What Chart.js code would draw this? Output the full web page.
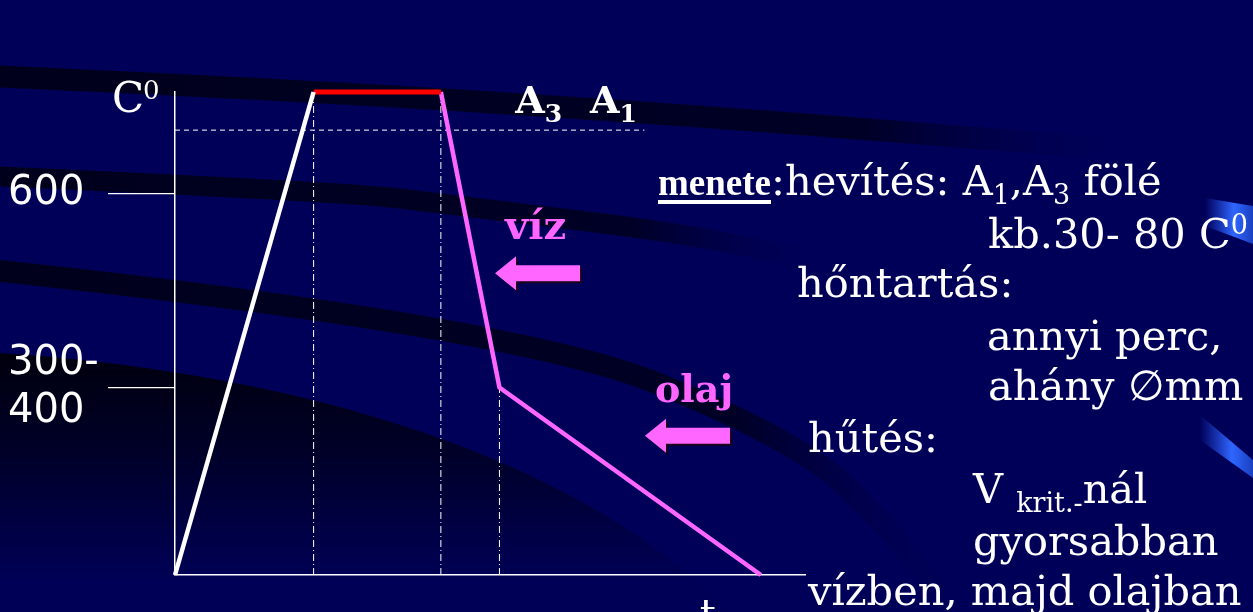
<!DOCTYPE html>
<html>
<head>
<meta charset="utf-8">
<script src="https://cdn.jsdelivr.net/npm/chart.js@4.4.1/dist/chart.umd.min.js"></script>
<style>
  html, body { margin: 0; padding: 0; background: #000058; }
  #wrap { position: relative; width: 1253px; height: 612px; overflow: hidden; }
  #chart { position: absolute; left: 0; top: 0; }
  .ln {
    position: absolute; color: #fff; white-space: nowrap;
    font-family: "DejaVu Serif", serif; font-size: 41.5px; line-height: 40px;
  }
  .ln b { font-family: "Liberation Serif", serif; font-size: 37px; text-decoration: underline; text-decoration-thickness: 4px; text-underline-offset: 5px; }
  .ln sub { font-size: 27px; line-height: 0; vertical-align: -9px; }
  .ln sup { font-size: 27px; line-height: 0; vertical-align: 14px; }
</style>
</head>
<body>
<div id="wrap">
  <canvas id="chart" width="1253" height="612"></canvas>
  <div class="ln" style="left:658px; top:161px;"><b>menete</b>:hevítés: A<sub>1</sub>,A<sub>3</sub> fölé</div>
  <div class="ln" style="left:988px; top:214px;">kb.30- 80 C<sup>0</sup></div>
  <div class="ln" style="left:797px; top:263px;">hőntartás:</div>
  <div class="ln" style="left:987px; top:316px;">annyi perc,</div>
  <div class="ln" style="left:988px; top:366px;">ahány ∅mm</div>
  <div class="ln" style="left:808px; top:418px;">hűtés:</div>
  <div class="ln" style="left:973px; top:469px;">V <sub>krit.-</sub>nál</div>
  <div class="ln" style="left:973px; top:521px;">gyorsabban</div>
  <div class="ln" style="left:808px; top:571px;">vízben, majd olajban</div>
</div>
<script>
// time axis is schematic (0..10), temperature in C
const heatTime = [0, 2.2];
const heatTemp = [0, 760];
const holdTime = [2.2, 4.22];
const holdTemp = [760, 760];
const coolTime = [4.22, 5.15, 9.3];
const coolTemp = [760, 295, 0];
const a3Time = [0, 7.45];
const a3Temp = [700, 700];
const guideTime = [2.2, 4.22, 5.15];
const guideTop = [760, 760, 295];
const yTickValues = [295, 600];
const yTickLabels = [["300-", "400"], "600"];
const arrowTime = [5.08, 7.46];
const arrowTemp = [475, 219];
const arrowLabels = ["víz", "olaj"];
const a3LabelTime = 5.4;
const tLabelTime = 8.33;

const PINK = "#ff66ff";

const pts = (ts, cs) => ts.map((t, i) => ({ x: t, y: cs[i] }));

const guideSets = guideTime.map((t, i) => ({
  data: pts([t, t], [0, guideTop[i]]),
  borderColor: "#ffffff",
  borderWidth: 1,
  borderDash: [7, 3, 1, 3],
  pointRadius: 0,
  clip: false,
}));

// dark navy slide backdrop with the curved bands
const backdrop = {
  id: "backdrop",
  beforeDraw(chart) {
    const { ctx, width, height } = chart;
    ctx.save();
    ctx.fillStyle = "#000058";
    ctx.fillRect(0, 0, width, height);

    ctx.beginPath();
    ctx.moveTo(0, 353);
    ctx.bezierCurveTo(260, 370, 560, 440, 730, 612);
    ctx.lineTo(0, 612);
    ctx.closePath();
    const g = ctx.createLinearGradient(0, 355, 0, 580);
    g.addColorStop(0, "#00000e");
    g.addColorStop(0.45, "#00002a");
    g.addColorStop(1, "#000056");
    ctx.fillStyle = g;
    ctx.fill();

    const band = (p, w, fadeX) => {
      const sg = ctx.createLinearGradient(0, 0, fadeX, 0);
      sg.addColorStop(0, "#00001c");
      sg.addColorStop(0.75, "#000026");
      sg.addColorStop(1, "rgba(0,0,88,0)");
      ctx.strokeStyle = sg;
      ctx.lineWidth = w;
      ctx.beginPath();
      ctx.moveTo(p[0][0], p[0][1]);
      for (let i = 1; i < p.length - 1; i++) {
        const mx = (p[i][0] + p[i + 1][0]) / 2;
        const my = (p[i][1] + p[i + 1][1]) / 2;
        ctx.quadraticCurveTo(p[i][0], p[i][1], mx, my);
      }
      ctx.lineTo(p[p.length - 1][0], p[p.length - 1][1]);
      ctx.stroke();
    };
    band([[-10, 76], [300, 90], [700, 116], [1000, 140], [1260, 160]], 22, 1150);
    band([[-10, 176], [350, 192], [450, 205], [700, 235], [840, 268]], 20, 840);
    band([[-10, 270], [510, 325], [800, 440], [900, 540], [960, 620]], 22, 980);

    const streak = (x0, y0, y1, y2, y3) => {
      const sg = ctx.createLinearGradient(x0, 0, 1253, 0);
      sg.addColorStop(0, "rgba(40,90,255,0)");
      sg.addColorStop(0.6, "#2f66ff");
      sg.addColorStop(1, "#1a40c0");
      ctx.fillStyle = sg;
      ctx.beginPath();
      ctx.moveTo(x0, y0);
      ctx.lineTo(1253, y1);
      ctx.lineTo(1253, y2);
      ctx.lineTo(x0, y3);
      ctx.closePath();
      ctx.fill();
    };
    streak(1205, 198, 206, 244, 226);
    streak(1200, 415, 460, 478, 440);
    ctx.restore();
  },
};

const annotations = {
  id: "annotations",
  afterDraw(chart) {
    const { ctx, chartArea, scales } = chart;
    const x = scales.x, y = scales.y;
    ctx.save();
    ctx.textBaseline = "alphabetic";
    ctx.fillStyle = "#ffffff";

    // axis titles
    ctx.font = '42px "DejaVu Serif"';
    ctx.fillText("C", chartArea.left - 63, chartArea.top + 20);
    ctx.font = '26px "DejaVu Serif"';
    ctx.fillText("0", chartArea.left - 32, chartArea.top + 7);
    ctx.font = '40px "DejaVu Serif"';
    ctx.fillText("t", x.getPixelForValue(tLabelTime), chartArea.bottom + 52);

    // A3 A1 over the dashed line
    const ay = y.getPixelForValue(a3Temp[0]) - 17;
    let ax = x.getPixelForValue(a3LabelTime);
    const big = 'bold 38px "DejaVu Serif"', small = 'bold 25px "DejaVu Serif"';
    [["A", "3"], ["A", "1"]].forEach(([m, s]) => {
      ctx.font = big;
      ctx.fillText(m, ax, ay);
      ax += ctx.measureText(m).width;
      ctx.font = small;
      ctx.fillText(s, ax, ay + 9);
      ax += ctx.measureText(s).width + 28;
    });

    // quench medium arrows
    arrowTime.forEach((t, i) => {
      const tx = x.getPixelForValue(t), ty = y.getPixelForValue(arrowTemp[i]);
      const shape = (ox, oy) => {
        ctx.beginPath();
        ctx.moveTo(tx + ox, ty + oy);
        ctx.lineTo(tx + 21 + ox, ty - 17 + oy);
        ctx.lineTo(tx + 21 + ox, ty - 8 + oy);
        ctx.lineTo(tx + 85 + ox, ty - 8 + oy);
        ctx.lineTo(tx + 85 + ox, ty + 8 + oy);
        ctx.lineTo(tx + 21 + ox, ty + 8 + oy);
        ctx.lineTo(tx + 21 + ox, ty + 17 + oy);
        ctx.closePath();
      };
      shape(2, 2);
      ctx.fillStyle = "#1a0018";
      ctx.fill();
      shape(0, 0);
      ctx.fillStyle = PINK;
      ctx.fill();
      ctx.font = i === 0 ? 'bold 40px "DejaVu Serif"' : 'bold 38px "DejaVu Serif"';
      ctx.fillText(arrowLabels[i], tx + 10, ty - 34);
    });
    ctx.restore();
  },
};

new Chart(document.getElementById("chart"), {
  type: "line",
  data: {
    datasets: [
      { data: pts(heatTime, heatTemp), borderColor: "#ffffff", borderWidth: 4.5, pointRadius: 0, clip: false },
      { data: pts(holdTime, holdTemp), borderColor: "#ff0000", borderWidth: 5, pointRadius: 0, clip: false },
      { data: pts(coolTime, coolTemp), borderColor: PINK, borderWidth: 4.5, pointRadius: 0, clip: false },
      {
        data: pts(a3Time, a3Temp),
        borderColor: "#ffffff",
        borderWidth: 1,
        borderDash: [5, 4],
        pointRadius: 0,
        clip: false,
      },
      ...guideSets,
    ],
  },
  options: {
    responsive: false,
    animation: false,
    devicePixelRatio: 1,
    layout: { padding: { left: 8, top: 92, right: 448, bottom: 37 } },
    plugins: { legend: { display: false }, tooltip: { enabled: false } },
    scales: {
      x: {
        type: "linear",
        min: 0,
        max: 10,
        grid: { display: false },
        ticks: { display: false },
        border: { color: "#ffffff", width: 1.5 },
        afterFit: (s) => { s.height = 0; s.paddingLeft = 0; s.paddingRight = 0; },
      },
      y: {
        type: "linear",
        min: 0,
        max: 760,
        afterBuildTicks: (s) => { s.ticks = yTickValues.map((v) => ({ value: v })); },
        afterFit: (s) => { s.width = 167; s.paddingTop = 0; s.paddingBottom = 0; },
        border: { color: "#ffffff", width: 1.5 },
        grid: { drawOnChartArea: false, color: "#ffffff", lineWidth: 1.2, tickLength: 67 },
        ticks: {
          color: "#ffffff",
          crossAlign: "far",
          font: { family: "DejaVu Sans", size: 40, lineHeight: 1.2 },
          callback: (v) => yTickLabels[yTickValues.indexOf(v)],
        },
      },
    },
  },
  plugins: [backdrop, annotations],
});
</script>
</body>
</html>
